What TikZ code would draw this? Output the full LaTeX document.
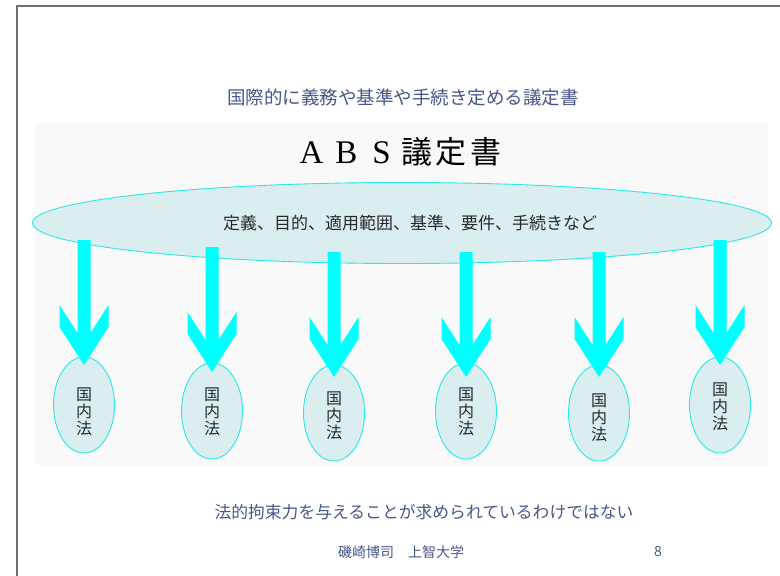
\documentclass[tikz,border=0pt]{standalone}
\usepackage{fontspec}
\setmainfont{Noto Sans CJK JP}
\newfontfamily\serifl{Liberation Serif}
\usetikzlibrary{shapes.geometric}
\definecolor{slate}{RGB}{72,86,138}
\definecolor{aqua}{RGB}{0,255,255}
\definecolor{aquaedge}{RGB}{40,232,232}
\definecolor{dotfill}{RGB}{218,238,240}
\definecolor{panel}{RGB}{249,249,249}
\definecolor{inktext}{RGB}{40,40,40}
\definecolor{framegray}{RGB}{110,110,110}
\begin{document}
\begin{tikzpicture}[x=1pt,y=-1pt,
  blob/.style={ellipse, draw=aquaedge, fill=dotfill, line width=0.9pt, inner sep=0pt},
  lawnode/.style={blob, minimum width=61pt, minimum height=96pt},
  lawtext/.style={font=\fontsize{16}{17}\selectfont, text=inktext, align=center, inner sep=0pt},
  slatetext/.style={text=slate, inner sep=0pt},
  darrow/.pic={\fill[aqua] (-6.5,-125) -- (-6.5,-32) -- (-24.5,-60) -- (-24.5,-38) -- (0,0) -- (24.5,-38) -- (24.5,-60) -- (6.5,-32) -- (6.5,-125) -- cycle;}
]
\useasboundingbox (0,0) rectangle (780,576);
\fill[panel] (35,123) rectangle (768,465);
\draw[framegray, line width=2pt] (17,577) -- (17,6) -- (781,6);

\node[slatetext, font=\fontsize{18.5}{20}\selectfont] (title) at (403,97) {国際的に義務や基準や手続き定める議定書};
\node[inner sep=0pt, text=black, font=\fontsize{31}{34}\selectfont] (abs) at (399,152)
  {\makebox[35pt]{\serifl\fontsize{33}{34}\selectfont A}\makebox[35pt]{\serifl\fontsize{33}{34}\selectfont B}\makebox[35pt]{\serifl\fontsize{33}{34}\selectfont S}\makebox[35pt]{議}\makebox[35pt]{定}\makebox[35pt]{書}};

\node[blob, minimum width=739pt, minimum height=81pt] (core) at (402,223) {};
\node[inner sep=0pt, text=inktext, font=\fontsize{17}{18}\selectfont] (coretext) at (410,223) {定義、目的、適用範囲、基準、要件、手続きなど};

\node[lawnode] (k1) at (84,405) {};
\node[lawnode] (k2) at (212,411) {};
\node[lawnode] (k3) at (334,413) {};
\node[lawnode] (k4) at (466,411) {};
\node[lawnode] (k5) at (599,413) {};
\node[lawnode] (k6) at (720,405) {};
\node[lawtext] (k1t) at (84,412) {国\\内\\法};
\node[lawtext] (k2t) at (212,412) {国\\内\\法};
\node[lawtext] (k3t) at (334,416) {国\\内\\法};
\node[lawtext] (k4t) at (466,412) {国\\内\\法};
\node[lawtext] (k5t) at (599,418) {国\\内\\法};
\node[lawtext] (k6t) at (720,407) {国\\内\\法};

\coordinate (t1) at (84,365);
\coordinate (t2) at (212,372);
\coordinate (t3) at (334,377);
\coordinate (t4) at (466,377);
\coordinate (t5) at (599,377);
\coordinate (t6) at (720,365);
\foreach \t in {t1,t2,t3,t4,t5,t6} {\pic at (\t) {darrow};}

\node[slatetext, font=\fontsize{16.8}{18}\selectfont] (note) at (424,512) {法的拘束力を与えることが求められているわけではない};
\node[slatetext, font=\fontsize{14}{16}\selectfont] (author) at (401,552) {磯崎博司　上智大学};
\node[slatetext, font=\fontsize{14}{16}\selectfont] (page) at (658,552) {8};
\end{tikzpicture}
\end{document}
